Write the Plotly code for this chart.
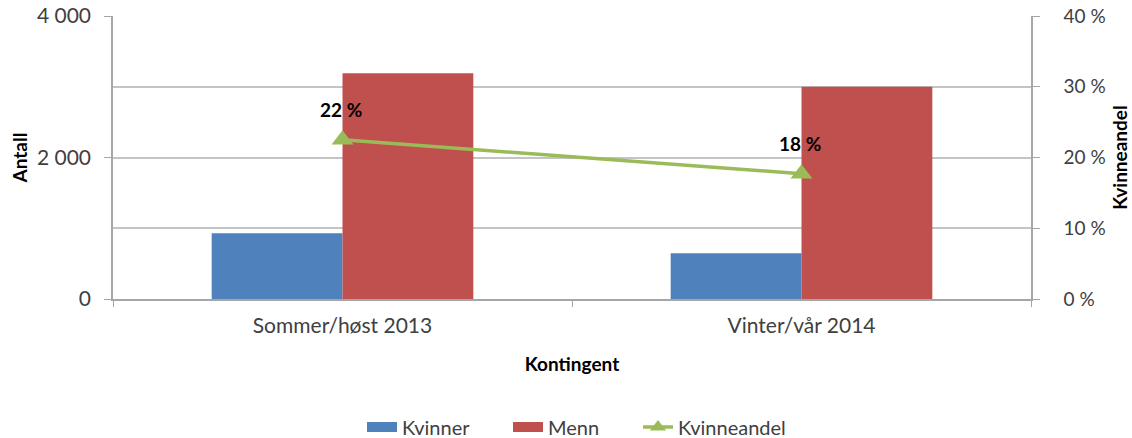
import plotly.graph_objects as go

categories = ["Sommer/høst 2013", "Vinter/vår 2014"]
kvinner = [930, 648]
menn = [3190, 3000]
kvinneandel = [0.225, 0.177]
andel_labels = ["22 %", "18 %"]

left_tickvals = [0, 2000, 4000]
left_ticktext = ["0", "2 000", "4 000"]
right_tickvals = [0, 0.1, 0.2, 0.3, 0.4]
right_ticktext = ["0 %", "10 %", "20 %", "30 %", "40 %"]

FONT = "Lato"
GRID = "#C4C4C4"
AXIS = "#A6A6A6"
TICKC = "#404040"
BLUE = "#4F81BD"
RED = "#C0504D"
GREEN = "#9BBB59"

fig = go.Figure()
fig.add_trace(go.Bar(name="Kvinner", x=categories, y=kvinner, marker_color=BLUE,
                     marker_line_width=0, showlegend=False, legendgroup="k"))
fig.add_trace(go.Bar(name="Menn", x=categories, y=menn, marker_color=RED,
                     marker_line_width=0, showlegend=False, legendgroup="m"))
fig.add_trace(go.Scatter(name="Kvinneandel", x=categories, y=kvinneandel, yaxis="y2",
                         mode="lines+markers", showlegend=False, legendgroup="a",
                         line=dict(color=GREEN, width=3.5),
                         marker=dict(symbol="triangle-up", size=19, color=GREEN)))
# legend entries (wide swatches like the original), one legend each for spacing
fig.add_trace(go.Scatter(name="Kvinner", x=[None], y=[None], mode="lines",
                         line=dict(color=BLUE, width=10), legendgroup="k", legend="legend"))
fig.add_trace(go.Scatter(name="Menn", x=[None], y=[None], mode="lines",
                         line=dict(color=RED, width=10), legendgroup="m", legend="legend2"))
fig.add_trace(go.Scatter(name="Kvinneandel", x=[None], y=[None], mode="lines+markers",
                         line=dict(color=GREEN, width=3.5), legendgroup="a", legend="legend3",
                         marker=dict(symbol="triangle-up", size=14, color=GREEN)))

for c, v, t in zip(categories, kvinneandel, andel_labels):
    fig.add_annotation(x=c, y=v, yref="y2", text=t, showarrow=False, yshift=30, xshift=-2,
                       font=dict(family=FONT, size=19, color="#000000", weight="bold"))

def leg(px):
    return dict(orientation="h", x=(px - 113) / 918, xanchor="left", y=-0.452, yanchor="middle",
                font=dict(family=FONT, size=20, color=TICKC), itemwidth=30)

fig.update_layout(
    width=1132, height=438,
    margin=dict(l=113, r=101, t=16, b=139, autoexpand=False),
    paper_bgcolor="white", plot_bgcolor="white",
    barmode="group", bargap=0.43, bargroupgap=0,
    font=dict(family=FONT, size=21, color=TICKC),
    showlegend=True,
    legend=leg(362), legend2=leg(508), legend3=leg(638),
    xaxis=dict(type="category", showline=True, linecolor=AXIS, linewidth=1.5,
               ticks="outside", tickson="boundaries", ticklen=6, tickcolor=AXIS,
               automargin=False, ticklabelstandoff=7,
               tickfont=dict(family=FONT, size=21, color=TICKC),
               title=dict(text="Kontingent", font=dict(family=FONT, size=19, color="#000000", weight="bold"),
                          standoff=22)),
    yaxis=dict(range=[0, 4000], tickvals=left_tickvals, ticktext=left_ticktext,
               showline=True, linecolor=AXIS, linewidth=1.5, ticks="outside", ticklen=7,
               tickcolor=AXIS, showgrid=True, gridcolor=GRID, gridwidth=1.5,
               minor=dict(dtick=1000, showgrid=True, gridcolor=GRID, gridwidth=1.5, ticks=""),
               zeroline=False, automargin=False, ticklabelstandoff=9,
               tickfont=dict(family=FONT, size=21, color=TICKC),
               title=dict(text="Antall", font=dict(family=FONT, size=19, color="#000000", weight="bold"),
                          standoff=4)),
    yaxis2=dict(range=[0, 0.4], tickvals=right_tickvals, ticktext=right_ticktext,
                overlaying="y", side="right", showline=True, linecolor=AXIS, linewidth=1.5,
                ticks="outside", ticklen=7, tickcolor=AXIS, showgrid=False, zeroline=False,
                automargin=False, ticklabelstandoff=20,
                tickfont=dict(family=FONT, size=19, color=TICKC),
                title=dict(text="Kvinneandel", font=dict(family=FONT, size=19, color="#000000", weight="bold"),
                           standoff=9)),
)

fig.write_html("out.html", config={"displayModeBar": False},
               post_script="document.body.style.margin='0';document.body.style.overflow='hidden';")
